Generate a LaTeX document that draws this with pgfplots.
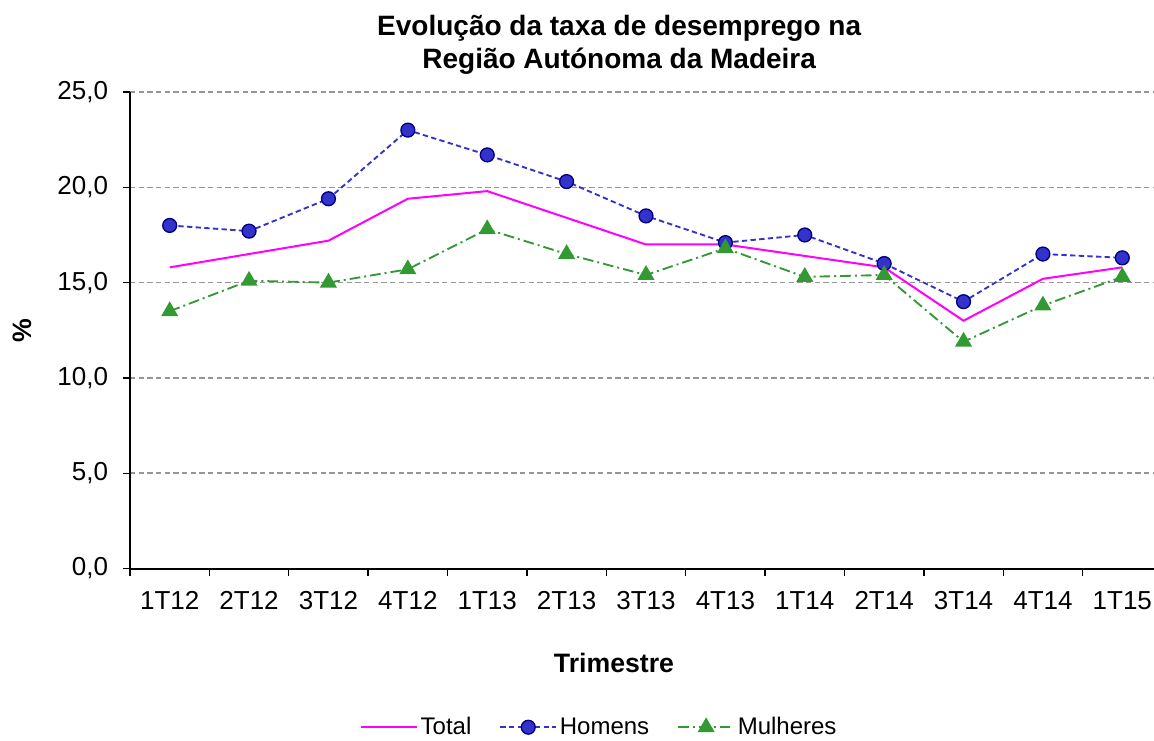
\documentclass[border=0pt]{standalone}
\usepackage{pgfplots}
\pgfplotsset{compat=1.18}
\usepackage{pgfplotstable}
\usepackage{fontspec}
\setmainfont{Liberation Sans}
\definecolor{totalc}{RGB}{255,0,255}
\definecolor{homc}{RGB}{51,51,204}
\definecolor{homedge}{RGB}{0,0,128}
\definecolor{mulc}{RGB}{51,153,51}
\definecolor{gridc}{RGB}{150,150,150}
\pgfplotstableread{
x total homens mulheres
0 15.8 18.0 13.5
1 16.5 17.7 15.1
2 17.2 19.4 15.0
3 19.4 23.0 15.7
4 19.8 21.7 17.8
5 18.4 20.3 16.5
6 17.0 18.5 15.4
7 17.0 17.1 16.8
8 16.4 17.5 15.3
9 15.8 16.0 15.4
10 13.0 14.0 11.9
11 15.2 16.5 13.8
12 15.8 16.3 15.3
}\datatable
\begin{document}
\begin{tikzpicture}
\useasboundingbox (-97.5pt,-128.6pt) rectangle (768pt,426.4pt);
\begin{axis}[
 at={(0,0)}, anchor=south west, scale only axis,
 width=774pt, height=357.4pt,
 xmin=-0.5, xmax=12.5, ymin=0, ymax=25,
 axis x line*=bottom, axis y line*=left,
 axis line style={-, line width=1.5pt, black},
 xtick={0,...,12},
 xticklabels={1T12,2T12,3T12,4T12,1T13,2T13,3T13,4T13,1T14,2T14,3T14,4T14,1T15},
 minor xtick={-0.5,0.5,1.5,2.5,3.5,4.5,5.5,6.5,7.5,8.5,9.5,10.5,11.5,12.5},
 ytick={0,5,10,15,20,25},
 tick align=outside,
 major tick length=5.25pt, minor tick length=5.25pt,
 major x tick style={draw=none},
 minor x tick style={black, line width=1pt},
 major y tick style={black, line width=1pt},
 ymajorgrids,
 major grid style={gridc, line width=1.1pt, dash pattern=on 4pt off 2.5pt},
 ticklabel style={font=\fontsize{19.5}{23}\selectfont},
 xticklabel style={inner sep=0pt, anchor=north, yshift=-12pt},
 yticklabel style={inner sep=0pt, anchor=east, xshift=-11pt,
   /pgf/number format/fixed, /pgf/number format/fixed zerofill, /pgf/number format/precision=1,
   /pgf/number format/use comma, /pgf/number format/assume math mode=true},
 ylabel={\%},
 ylabel style={at={(axis description cs:-0.1047,0.5)}, anchor=center, font=\fontsize{20}{24}\selectfont\bfseries},
 xlabel={Trimestre},
 xlabel style={at={(axis description cs:0.469,-0.198)}, anchor=center, font=\fontsize{20}{24}\selectfont\bfseries},
 legend style={at={(axis description cs:0.455,-0.333)}, anchor=center, draw=none, fill=none, legend columns=3,
   font=\fontsize{18}{21}\selectfont, inner sep=0pt,
   /tikz/every even column/.append style={column sep=19pt}},
 legend image code/.code={\draw[mark repeat=2, mark phase=2] plot coordinates {(0pt,0pt) (21pt,0pt) (42pt,0pt)};},
 clip=false,
]
\addplot[totalc, line width=1.5pt, no markers] table[x=x, y=total] {\datatable};
\addlegendentry{Total}
\addplot[homc, line width=1.4pt, dash pattern=on 4pt off 2.5pt, mark=*, mark size=5.2pt,
  mark options={solid, fill=homc, draw=homedge, line width=1pt}] table[x=x, y=homens] {\datatable};
\addlegendentry{Homens}
\addplot[mulc, line width=1.4pt, dash pattern=on 8pt off 3pt on 1.5pt off 3pt, mark=triangle*, mark size=6pt,
  mark options={solid, fill=mulc, draw=mulc}] table[x=x, y=mulheres] {\datatable};
\addlegendentry{Mulheres}
\node[anchor=base, font=\fontsize{21}{25}\selectfont\bfseries] at (axis description cs:0.474,1) [yshift=42.75pt] {Evolução da taxa de desemprego na};
\node[anchor=base, font=\fontsize{21}{25}\selectfont\bfseries] at (axis description cs:0.474,1) [yshift=18pt] {Região Autónoma da Madeira};
\end{axis}
\end{tikzpicture}
\end{document}
